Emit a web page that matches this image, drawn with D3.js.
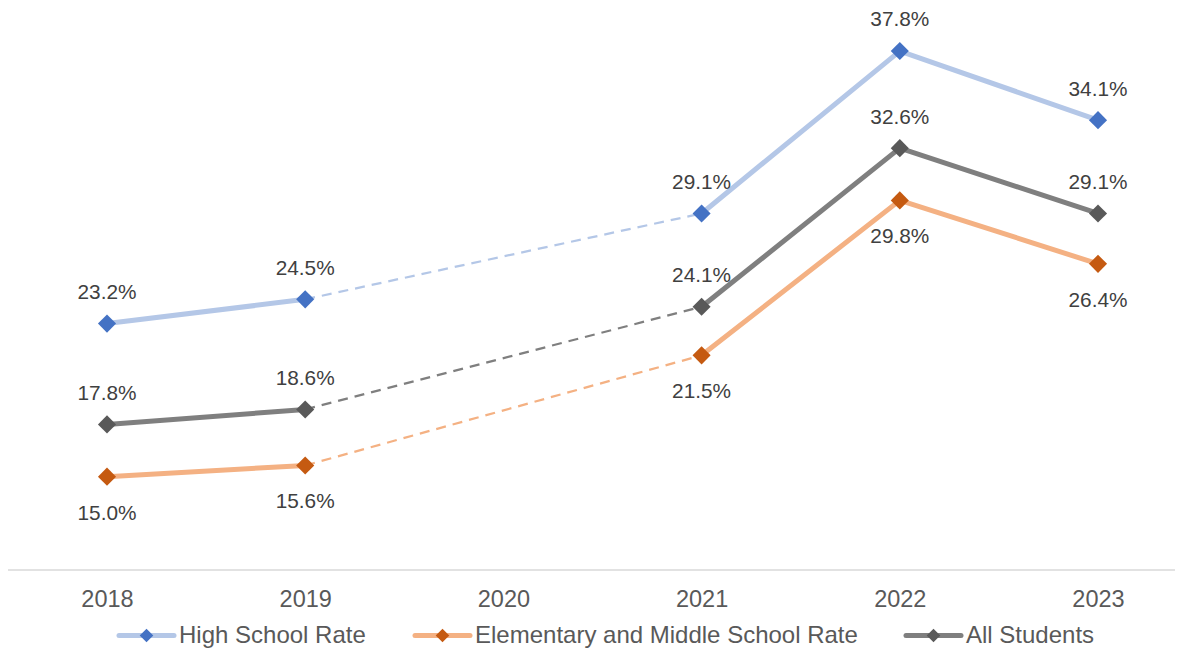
<!DOCTYPE html>
<html><head><meta charset="utf-8">
<script src="https://cdn.jsdelivr.net/npm/d3@7"></script>
<style>body{margin:0;background:#fff}svg{display:block}</style>
</head><body>
<svg id="c" width="1190" height="652"></svg>
<script>
const years = ["2018","2019","2020","2021","2022","2023"];
const highSchool = [23.2, 24.5, null, 29.1, 37.8, 34.1];
const elemMiddle = [15.0, 15.6, null, 21.5, 29.8, 26.4];
const allStudents = [17.8, 18.6, null, 24.1, 32.6, 29.1];
const seriesNames = ["High School Rate", "Elementary and Middle School Rate", "All Students"];
const labelPos = [
  ["above","above",null,"above","above","above"],
  ["below","below",null,"below","below","below"],
  ["above","above",null,"above","above","above"]
];

const styles = [
  {line:"#B4C7E7", marker:"#4472C4"},
  {line:"#F4B183", marker:"#C55A11"},
  {line:"#7F7F7F", marker:"#595959"}
];
const data = [highSchool, elemMiddle, allStudents];

const svg = d3.select("#c");
const x = d3.scalePoint().domain(years).range([107, 1098]);
const y = d3.scaleLinear().domain([10, 40]).range([570, 10]);
const font = "'Liberation Sans', Arial, sans-serif";

// axis
const xAxis = svg.append("g").attr("transform","translate(0,570)")
  .call(d3.axisBottom(x).tickSize(0));
xAxis.select(".domain").remove();
svg.append("line").attr("x1",8).attr("x2",1175).attr("y1",570).attr("y2",570)
  .attr("stroke","#D9D9D9").attr("stroke-width",1.5);
xAxis.selectAll("text").attr("font-family",font).attr("font-size",23.5).attr("fill","#595959")
  .attr("y",36.8).attr("dy",null);

data.forEach((vals, si) => {
  const st = styles[si];
  const pts = years.map((yr,i)=>({yr, v: vals[i], i})).filter(d => d.v != null);
  for (let k = 0; k < pts.length - 1; k++) {
    const a = pts[k], b = pts[k+1];
    const gap = b.i - a.i > 1;
    svg.append("line")
      .attr("x1", x(a.yr)).attr("y1", y(a.v))
      .attr("x2", x(b.yr)).attr("y2", y(b.v))
      .attr("stroke", st.line)
      .attr("stroke-width", gap ? 2.25 : 5)
      .attr("stroke-dasharray", gap ? "10,7" : null)
      .attr("stroke-linecap", gap ? "butt" : "round");
  }
});
data.forEach((vals, si) => {
  const st = styles[si];
  years.forEach((yr,i) => {
    const v = vals[i];
    if (v == null) return;
    svg.append("rect")
      .attr("x", -6.4).attr("y", -6.4).attr("width", 12.8).attr("height", 12.8)
      .attr("fill", st.marker)
      .attr("transform", `translate(${x(yr)},${y(v)}) rotate(45)`);
    const pos = labelPos[si][i];
    svg.append("text")
      .attr("x", x(yr)).attr("y", y(v) + (pos === "above" ? -24.6 : 43))
      .attr("text-anchor","middle")
      .attr("font-family", font).attr("font-size", 20.8).attr("fill","#404040")
      .text(v.toFixed(1) + "%");
  });
});

// legend
const legendX = [119, 415, 906];
seriesNames.forEach((name, si) => {
  const st = styles[si];
  const lx = legendX[si], ly = 635.5;
  const g = svg.append("g");
  g.append("line").attr("x1", lx).attr("x2", lx + 55).attr("y1", ly).attr("y2", ly)
    .attr("stroke", st.line).attr("stroke-width", 5).attr("stroke-linecap","round");
  g.append("rect").attr("x",-4.8).attr("y",-4.8).attr("width",9.6).attr("height",9.6)
    .attr("fill", st.marker).attr("transform", `translate(${lx+27.5},${ly}) rotate(45)`);
  g.append("text").attr("x", lx + 60).attr("y", 643.3)
    .attr("font-family", font).attr("font-size", 24).attr("fill","#595959")
    .text(name);
});
</script>
</body></html>
